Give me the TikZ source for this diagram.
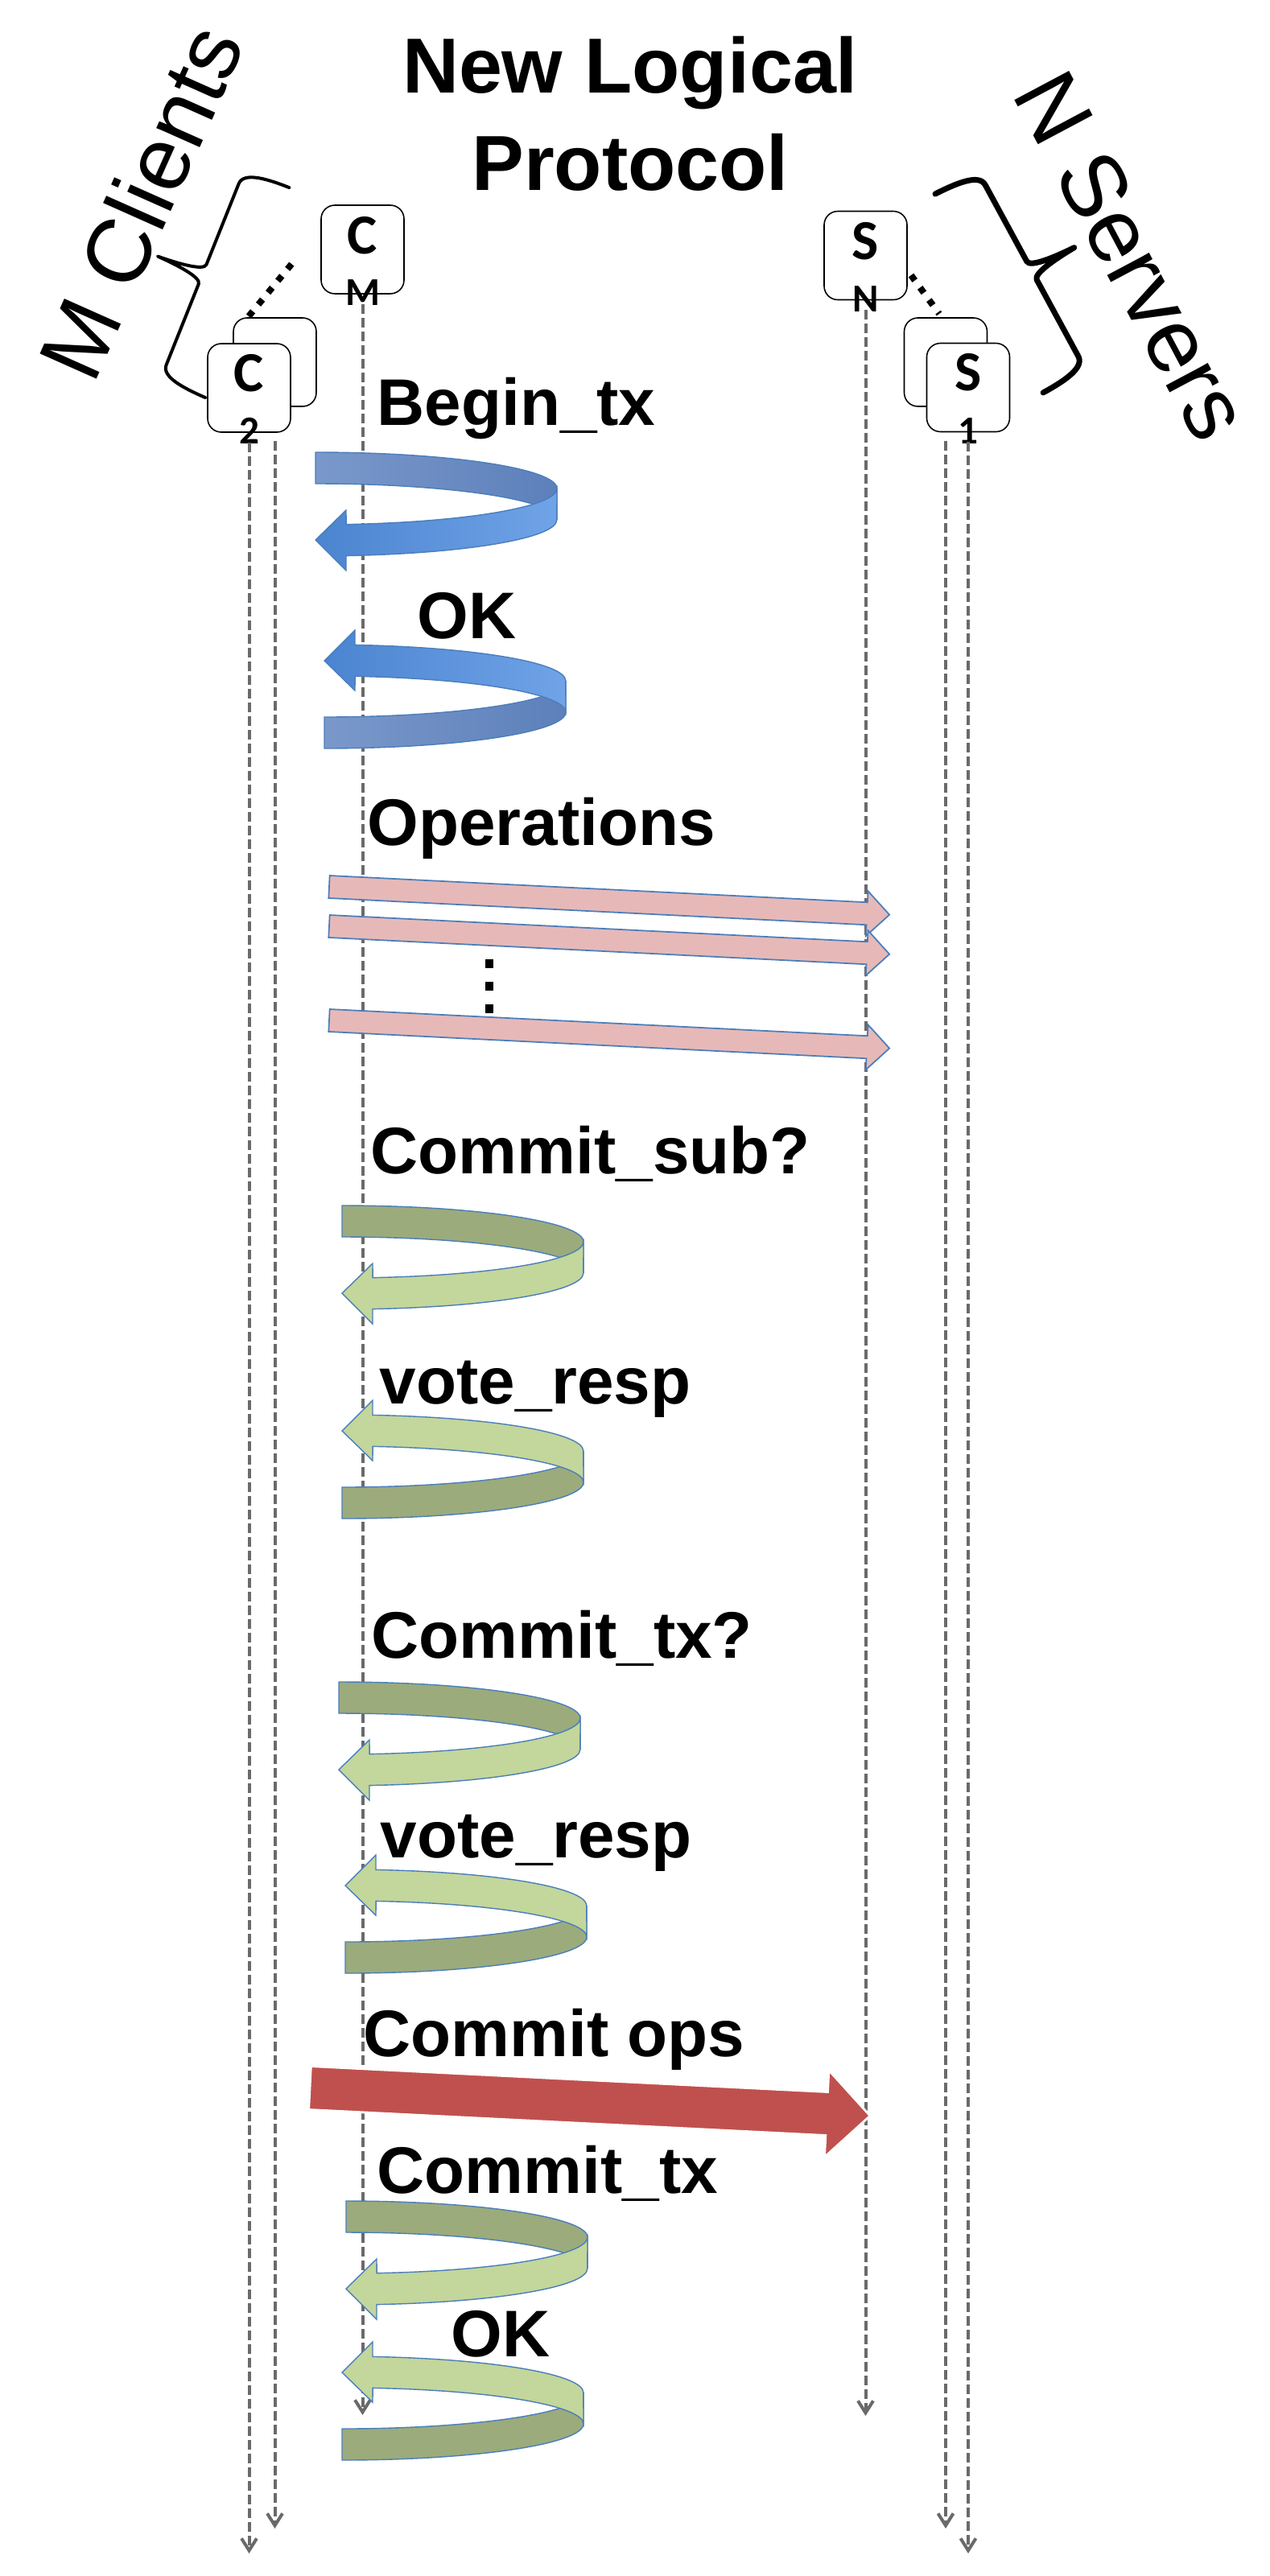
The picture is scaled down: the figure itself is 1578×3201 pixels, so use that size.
\documentclass[tikz,border=0pt]{standalone}
\usepackage{fontspec}
\setmainfont{Liberation Sans}
\newfontfamily\boxfont{Carlito}
\usetikzlibrary{arrows.meta,positioning}

\definecolor{bluebkL}{HTML}{7A98CA}
\definecolor{bluebkR}{HTML}{5D80BB}
\definecolor{bluefrL}{HTML}{4B84D0}
\definecolor{bluefrR}{HTML}{70A3E7}
\definecolor{blueedge}{HTML}{4A7EBB}
\definecolor{greenbk}{HTML}{9BAB7C}
\definecolor{greenfr}{HTML}{C3D69B}
\definecolor{pinkop}{HTML}{E6B9B8}
\definecolor{redop}{HTML}{C0504D}
\definecolor{lifegray}{HTML}{6A6A6A}

\tikzset{
  hostbox/.style={draw, fill=white, rounded corners=1.7mm, line width=0.45pt,
    minimum width=10.3mm, minimum height=11mm, inner sep=0pt},
  hostlbl/.style={inner sep=0pt, font=\boxfont\fontsize{20}{22}\selectfont\bfseries},
  hostsub/.style={inner sep=0pt, font=\boxfont\fontsize{14}{16}\selectfont\bfseries},
  lifeline/.style={draw=lifegray, line width=0.4mm, dash pattern=on 1.2mm off 0.5mm,
    -{Straight Barb[length=1.5mm,width=1.9mm]}},
  dotline/.style={line width=0.8mm, dash pattern=on 0.8mm off 1.1mm},
  msg/.style={anchor=base west, inner sep=0pt, font=\fontsize{23.3}{28}\selectfont\bfseries},
  groupfont/.style={anchor=base west, inner sep=0pt, font=\fontsize{31.8}{36}\selectfont},
  titlefont/.style={anchor=base, inner sep=0pt, font=\fontsize{27.6}{33}\selectfont\bfseries},
  blue back/.style={left color=bluebkL, right color=bluebkR, draw=blueedge, line width=0.4pt},
  blue front/.style={left color=bluefrL, right color=bluefrR, draw=blueedge, line width=0.4pt},
  green back/.style={fill=greenbk, draw=blueedge, line width=0.4pt},
  green front/.style={fill=greenfr, draw=blueedge, line width=0.4pt},
  opsarrow/.style={fill=pinkop, draw=blueedge, line width=0.5pt},
  commitarrow/.style={fill=redop, draw=white, line width=0.8pt},
  pics/uturn/.style={code={
    \path[#1 back] (0,45) arc[start angle=90, end angle=0, x radius=300, y radius=45]
      -- (300,-39) arc[start angle=0, end angle=90, x radius=300, y radius=45] -- cycle;
    \path[#1 front] (300,0) arc[start angle=0, end angle=-82.7, x radius=300, y radius=45]
      -- (38,-27) -- (0,-64) -- (38,-102) -- (38,-83.6)
      arc[start angle=-82.7, end angle=0, x radius=300, y radius=45] -- cycle;
  }},
  pics/fatarrow/.style={code={
    \path[pic actions] (0,#1) -- (697-2*#1,#1) -- (697-2*#1,2*#1) -- (697,0)
      -- (697-2*#1,-2*#1) -- (697-2*#1,-#1) -- (0,-#1) -- cycle;
  }},
  pics/curly/.style={code={
    \draw[line cap=round, line join=round] (0,0) .. controls (1,35) and (5,60) .. (20,60) -- (128,60)
      .. controls (137,60) and (140,95) .. (141,120)
      .. controls (142,95) and (145,60) .. (154,60) -- (262,60)
      .. controls (277,60) and (281,35) .. (281,0);
  }}
}

\begin{document}
\begin{tikzpicture}[x=0.1mm, y=0.1mm]
  \path (0,0) rectangle (1578,-3201);

  % Title
  \node[titlefont] (title) at (783,-115) {New Logical};
  \node[titlefont] (title2) at (783,-236) {Protocol};

  % Clients
  \node[hostbox] (c2back) at (341.5,-450) {};
  \node[hostbox] (c2) at (309.5,-482) {};
  \node[hostbox] (cm) at (450.5,-310) {};
  \node[hostlbl] (c2lbl) at ([yshift=1.85mm]c2.center) {C};
  \node[hostsub] (c2sub) at ([yshift=0.2mm]c2.south) {2};
  \node[hostlbl] (cmlbl) at ([yshift=1.75mm]cm.center) {C};
  \node[hostsub] (cmsub) at ([yshift=0.2mm]cm.south) {M};

  % Servers
  \node[hostbox] (snode) at (1075.5,-317.5) {};
  \node[hostbox] (s1back) at (1175,-450) {};
  \node[hostbox] (s1) at (1203,-481.5) {};
  \node[hostlbl] (snlbl) at ([yshift=1.75mm]snode.center) {S};
  \node[hostsub] (snsub) at ([yshift=0.2mm]snode.south) {N};
  \node[hostlbl] (s1lbl) at ([yshift=1.85mm]s1.center) {S};
  \node[hostsub] (s1sub) at ([yshift=0.2mm]s1.south) {1};

  % Dotted links between hosts
  \coordinate (cdotA) at (309,-393);
  \coordinate (cdotB) at (369,-320);
  \coordinate (sdotA) at (1132,-342);
  \coordinate (sdotB) at (1167,-390);
  \draw[dotline] (cdotA) -- (cdotB);
  \draw[dotline] (sdotA) -- (sdotB);

  % Braces and group names
  \pic[rotate=68.2, line width=0.4mm] at (255,-494) {curly};
  \pic[rotate=-61.5, line width=0.7mm] at (1162,-241) {curly};
  \node[groupfont, rotate=66] (clients) at (116,-480) {M Clients};
  \node[groupfont, rotate=-62] (servers) at (1256,-116) {N Servers};

  % Lifelines
  \coordinate (c2end) at (309.5,-3173);
  \coordinate (c2bend) at (341.5,-3142);
  \coordinate (cmend) at (450.5,-3001);
  \coordinate (snend) at (1075.5,-3002);
  \coordinate (s1bend) at (1175,-3142);
  \coordinate (s1end) at (1203,-3173);
  \draw[lifeline, shorten <=1.2mm] (c2.south) -- (c2end);
  \draw[lifeline, shorten <=4.2mm] (c2back.south) -- (c2bend);
  \draw[lifeline, shorten <=1.2mm] (cm.south) -- (cmend);
  \draw[lifeline, shorten <=1.2mm] (snode.south) -- (snend);
  \draw[lifeline, shorten <=4.2mm] (s1back.south) -- (s1bend);
  \draw[lifeline, shorten <=1.2mm] (s1.south) -- (s1end);

  % Begin / OK loops
  \pic at (392,-607) {uturn=blue};
  \pic[yscale=-1] at (403,-885) {uturn=blue};

  % Operations
  \foreach \y in {1102,1151,1268}
    \pic[rotate=-2.85, opsarrow] at (409,-\y) {fatarrow=14};
  \foreach \y in {1197,1225,1253}
    \fill (603,-\y+5.5) rectangle ++(10,-11);

  % Vote loops
  \foreach \x/\y/\f in {425/1543/1, 425/1842/-1, 421/2135/1, 429/2407/-1,
                        430/2780/1, 425/3012/-1}
    \pic[yscale=\f] at (\x,-\y) {uturn=green};

  % Commit ops
  \pic[rotate=-2.85, commitarrow] at (385,-2594.5) {fatarrow=27};

  % Labels
  \node[msg] (begintx) at (468,-528) {Begin\_tx};
  \node[msg] (oka) at (518,-793) {OK};
  \node[msg] (ops) at (456,-1050) {Operations};
  \node[msg] (csub) at (460,-1458) {Commit\_sub?};
  \node[msg] (votea) at (471,-1744) {vote\_resp};
  \node[msg] (ctxq) at (461,-2060) {Commit\_tx?};
  \node[msg] (voteb) at (472,-2308) {vote\_resp};
  \node[msg] (cops) at (451,-2555) {Commit ops};
  \node[msg] (ctx) at (468,-2725) {Commit\_tx};
  \node[msg] (okb) at (560,-2928) {OK};
\end{tikzpicture}
\end{document}
